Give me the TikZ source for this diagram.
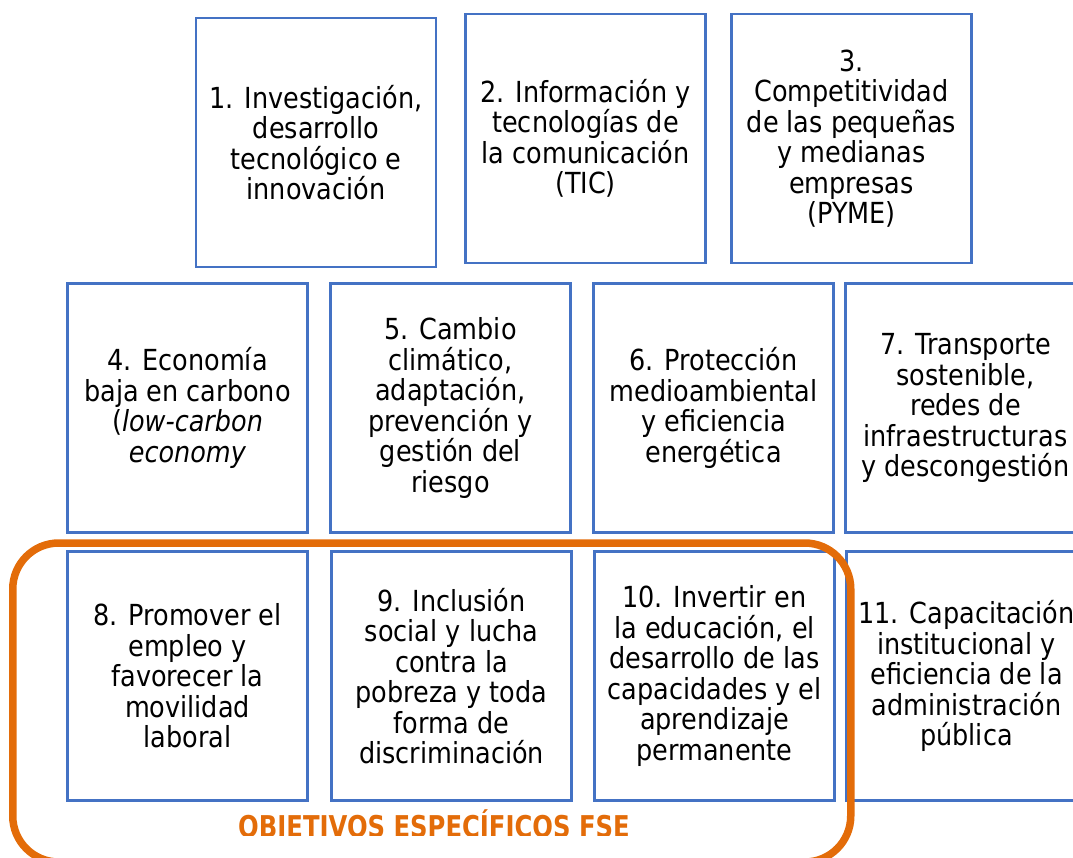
\documentclass[tikz,border=0pt]{standalone}
\usepackage{fontspec}
\setmainfont{DejaVu Sans}[FakeStretch=0.88]
\newfontfamily\fselabelfont{DejaVu Sans}[FakeStretch=0.81]
\usepackage{xcolor}
\usepackage{tikz}

\definecolor{boxblue}{HTML}{4472C4}
\definecolor{fseorange}{HTML}{E36C09}

\begin{document}
\begin{tikzpicture}[
  x = 1pt, y = 1pt,
  objbox/.style = {draw = boxblue, line width = 2.8pt, minimum width = 240pt,
                   minimum height = 249pt, inner sep = 0pt, align = center,
                   font = \fontsize{29}{30.5}\selectfont},
  fsegroup/.style = {draw = fseorange, line width = 7.5pt, rounded corners = 46pt,
                     minimum width = 838pt, minimum height = 319pt, inner sep = 0pt}
  ]
  \useasboundingbox (0,0) rectangle (1073,-857);
  \clip (0,0) rectangle (1073,-857);
  \node[objbox] (o1) at (316,-142.5) {1. Investigación,\\desarrollo\\tecnológico e\\innovación};
  \node[objbox] (o2) at (585.5,-138.5) {2. Información y\\tecnologías de\\la comunicación\\(TIC)};
  \node[objbox] (o3) at (851.5,-138.5) {3.\\Competitividad\\de las pequeñas\\y medianas\\empresas\\(PYME)};
  \node[objbox] (o4) at (187.5,-408) {4. Economía\\baja en carbono\\(\textit{low-carbon}\\\textit{economy}};
  \node[objbox] (o5) at (450.5,-408) {5. Cambio\\climático,\\adaptación,\\prevención y\\gestión del\\riesgo};
  \node[objbox] (o6) at (713.5,-408) {6. Protección\\medioambiental\\y eficiencia\\energética};
  \node[objbox] (o7) at (965.5,-408) {7. Transporte\\sostenible,\\redes de\\infraestructuras\\y descongestión};
  \node[objbox] (o8) at (187.5,-676) {8. Promover el\\empleo y\\favorecer la\\movilidad\\laboral};
  \node[objbox] (o9) at (451.5,-676) {9. Inclusión\\social y lucha\\contra la\\pobreza y toda\\forma de\\discriminación};
  \node[objbox] (o10) at (714.5,-676) {10. Invertir en\\la educación, el\\desarrollo de las\\capacidades y el\\aprendizaje\\permanente};
  \node[objbox] (o11) at (966.5,-676) {11. Capacitación\\institucional y\\eficiencia de la\\administración\\pública};
  \node[fsegroup] (fse) at (431.75,-702.5) {};
  \begin{scope}
    \clip (200,-805) rectangle (680,-835);
    \node[anchor = base, text = fseorange, inner sep = 0pt,
          font = \fselabelfont\fontsize{30}{32}\bfseries] (fselabel) at (434,-837) {OBJETIVOS ESPECÍFICOS FSE};
  \end{scope}
\end{tikzpicture}
\end{document}
